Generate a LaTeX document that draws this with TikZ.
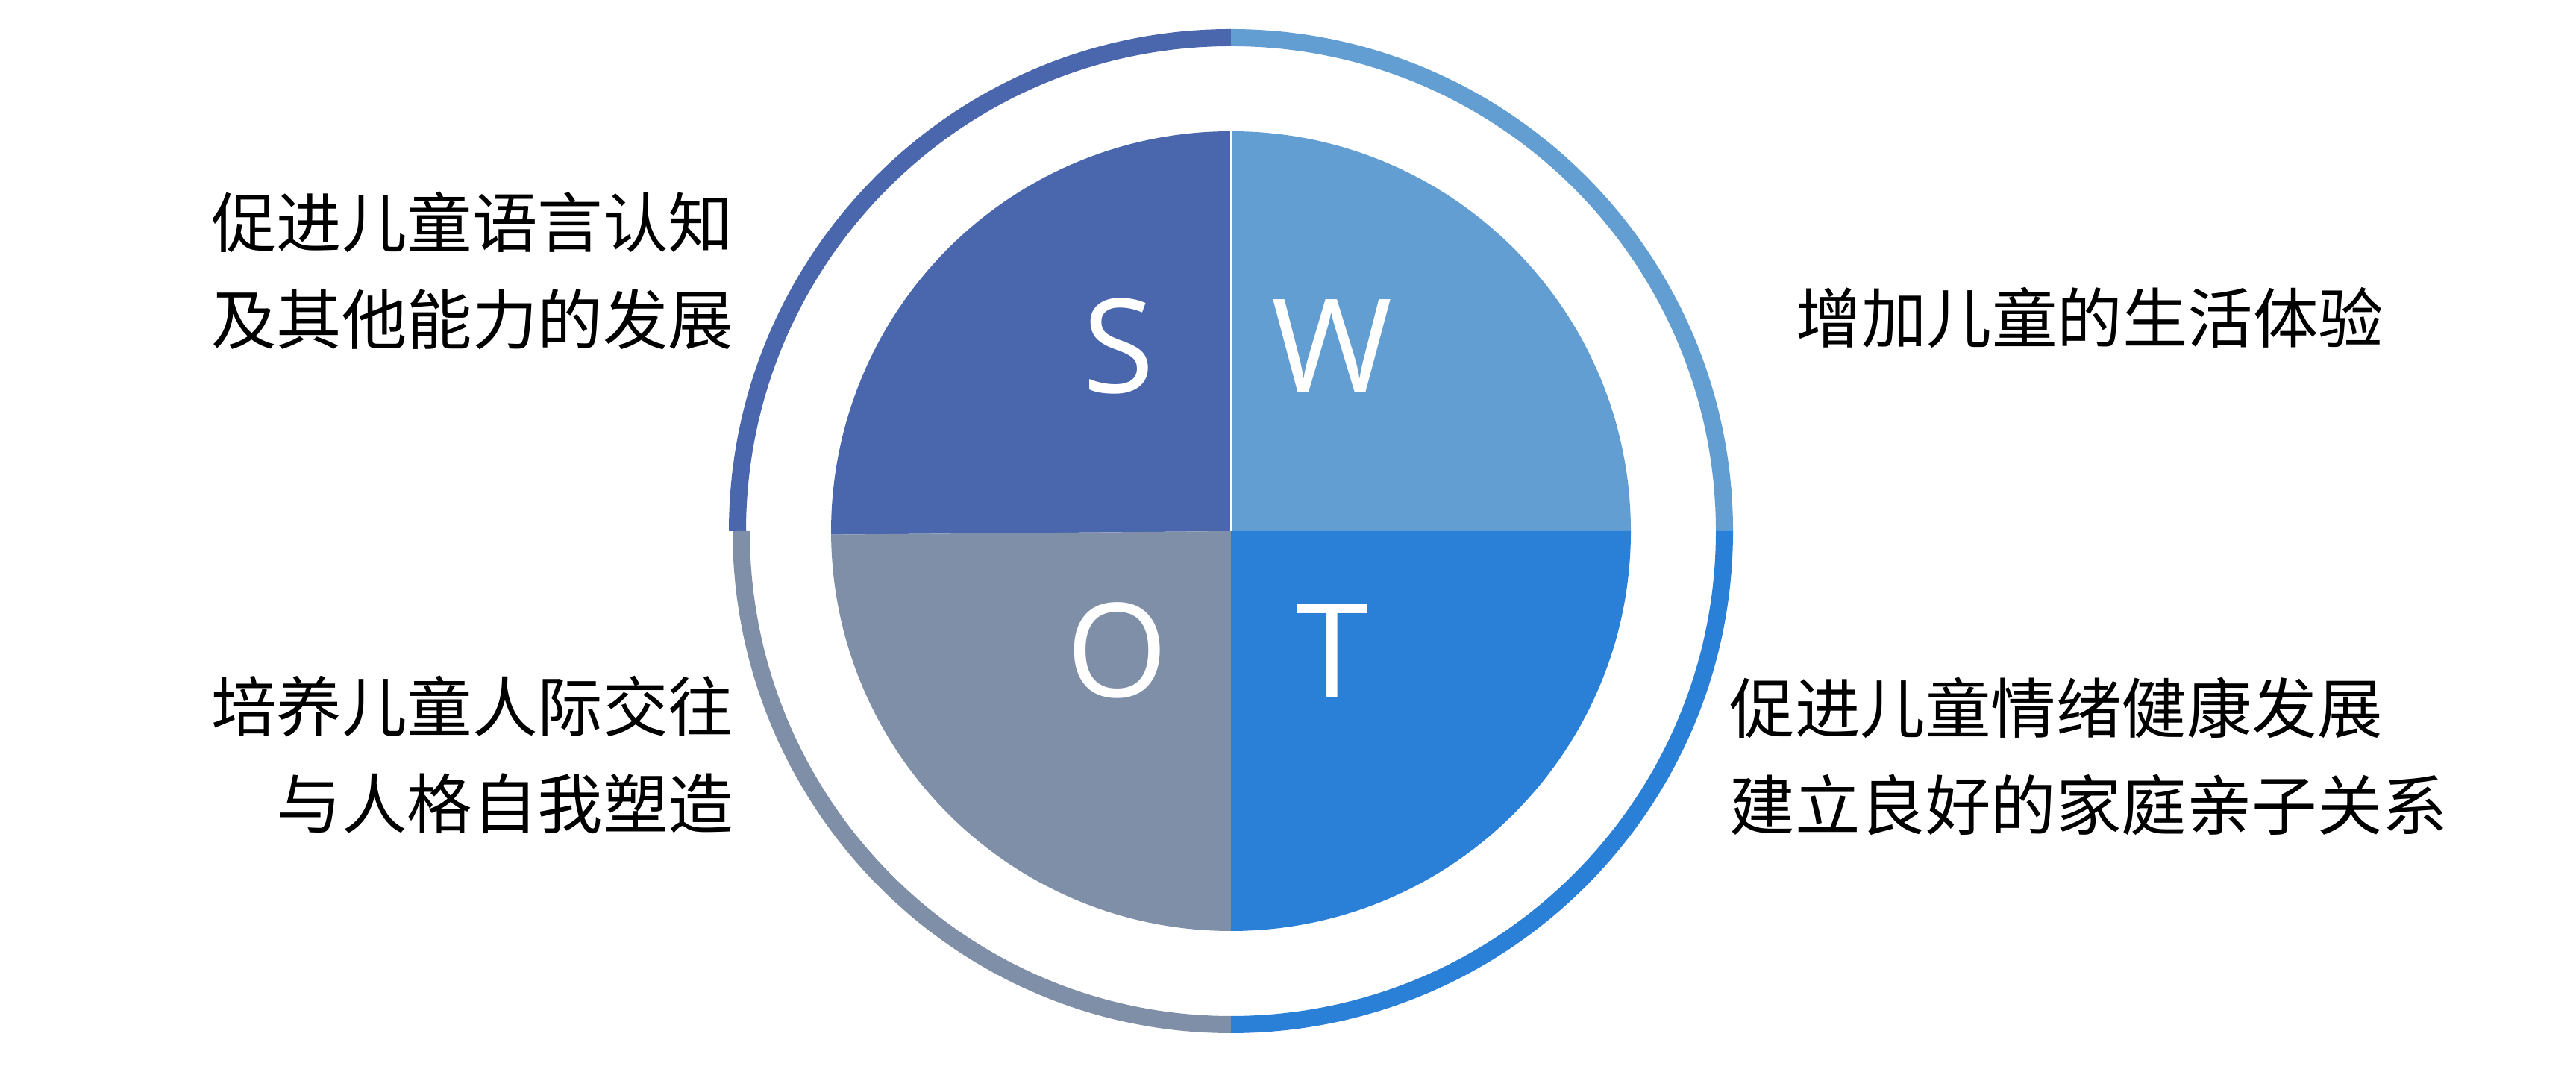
\documentclass[tikz,border=0pt]{standalone}
\usepackage{fontspec}
\newfontfamily\cjk{Noto Sans CJK SC}
\newfontfamily\lat{Open Sans}
\definecolor{scol}{HTML}{4A67AE}
\definecolor{wcol}{HTML}{629ED1}
\definecolor{ocol}{HTML}{808FA8}
\definecolor{tcol}{HTML}{2A7FD7}
\begin{document}
\begin{tikzpicture}[
    swotletter/.style={text=white,inner sep=0pt,font=\lat\fontsize{49.8pt}{50pt}\selectfont},
    swottext/.style={inner sep=0pt,font=\cjk\fontsize{24.9pt}{37pt}\selectfont}]
    \useasboundingbox (0,0) rectangle (34.53,14.33);
    \coordinate (c) at (16.50,7.21);
    % quadrants
    \fill[scol] (c) -- +(90:5.36) arc[start angle=90,end angle=180.5,radius=5.36] -- cycle;
    \fill[wcol] (c) -- +(0:5.36) arc[start angle=0,end angle=90,radius=5.36] -- cycle;
    \fill[ocol] (c) -- +(180.5:5.36) arc[start angle=180.5,end angle=270,radius=5.36] -- cycle;
    \fill[tcol] (c) -- +(270:5.36) arc[start angle=270,end angle=360,radius=5.36] -- cycle;
    \draw[white,line width=.012cm] (c) -- +(90:5.37);
    % outer ring
    \draw[scol,line width=.23cm] (c) +(90:6.615) arc[start angle=90,end angle=180,radius=6.615];
    \draw[wcol,line width=.23cm] (c) +(0:6.615) arc[start angle=0,end angle=90,radius=6.615];
    \draw[ocol,line width=.23cm] (c) +(180:6.565 and 6.615) arc[start angle=180,end angle=270,x radius=6.565,y radius=6.615];
    \draw[tcol,line width=.23cm] (c) +(270:6.615) arc[start angle=270,end angle=360,radius=6.615];
    % letters
    \node[swotletter] (s) at (15.00,9.69) {S};
    \node[swotletter] (w) at (17.85,9.69) {W};
    \node[swotletter] (o) at (14.98,5.61) {O};
    \node[swotletter] (t) at (17.86,5.61) {T};
    % texts
    \node[swottext,anchor=east,align=right] (ls) at (9.84,10.70) {促进儿童语言认知\\及其他能力的发展};
    \node[swottext,anchor=west,align=left] (lw) at (24.07,10.07) {增加儿童的生活体验};
    \node[swottext,anchor=east,align=right] (lo) at (9.84,4.21) {培养儿童人际交往\\与人格自我塑造};
    \node[swottext,anchor=west,align=left] (lt) at (23.18,4.19) {促进儿童情绪健康发展\\建立良好的家庭亲子关系};
\end{tikzpicture}
\end{document}
